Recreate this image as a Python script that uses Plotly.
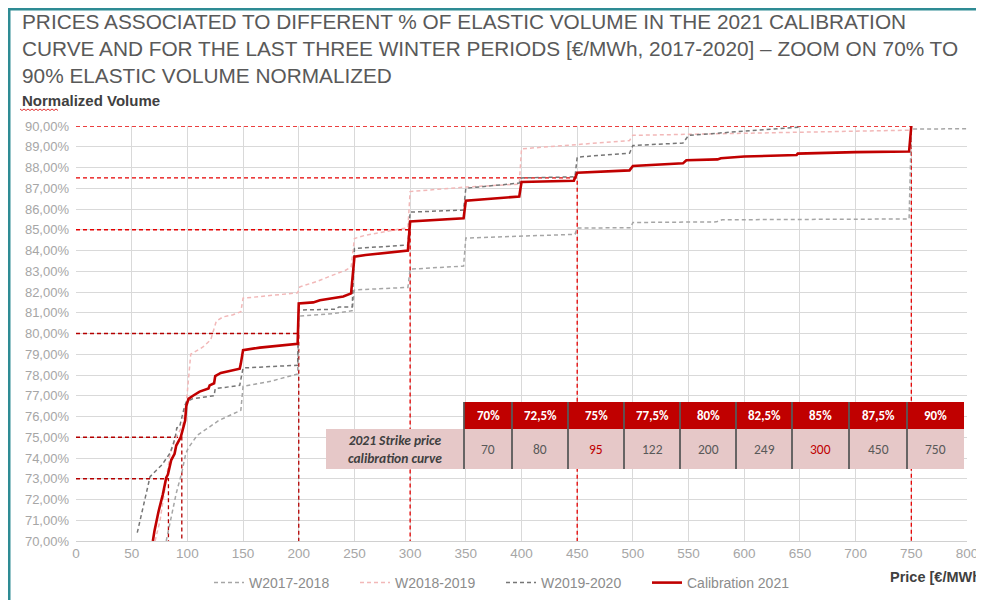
import plotly.graph_objects as go

# ---------------- DATA ----------------
cal_price = [69, 70.5, 74, 78, 81, 82.5, 85.5, 88.5, 90, 94, 96.5, 98, 99, 101, 105, 111, 119, 120, 124, 125,
             130, 147, 148, 150, 165, 199, 200, 213, 219, 230, 240, 247, 248.5, 250, 260, 298, 300, 348, 350, 398,
             400, 447, 450, 497, 500, 545, 548, 576, 579, 600, 647, 648, 700, 748, 750]
cal_vol = [70, 70.5, 71.4, 72.25, 73.05, 73.2, 73.9, 74.2, 74.6, 75.0, 75.5, 75.8, 76.5, 76.85, 77.0, 77.2, 77.35, 77.5, 77.6, 77.95,
           78.1, 78.3, 78.55, 79.2, 79.32, 79.5, 81.45, 81.5, 81.6, 81.7, 81.78, 81.93, 82.7, 83.7, 83.78, 84.0, 85.4, 85.55, 86.4, 86.6,
           87.3, 87.36, 87.75, 87.86, 88.07, 88.2, 88.35, 88.39, 88.45, 88.53, 88.6, 88.67, 88.74, 88.77, 90.0]

w17_price = [81, 86, 90, 95, 98.5, 101, 109, 120, 128, 148, 150, 175, 199, 200, 230, 248, 250, 298, 300, 348,
             350, 448, 450, 498, 500, 575, 580, 748, 750, 800]
w17_vol = [70, 71.2, 72.3, 73.3, 74.2, 74.5, 75.1, 75.5, 75.8, 76.3, 77.45, 77.7, 78.05, 80.84, 80.95, 81.1, 82.1, 82.22, 83.1, 83.25,
           84.6, 84.78, 85.08, 85.1, 85.35, 85.38, 85.48, 85.52, 89.85, 89.87]

w18_price = [71, 75.5, 80, 84.5, 90, 96, 99, 103, 114, 121, 126, 132, 141, 148, 150, 165, 199, 201, 216, 230,
             242, 247, 250, 260, 298, 300, 348, 398, 400, 497, 500, 750]
w18_vol = [70, 71, 72.6, 74.2, 75.0, 75.6, 76.6, 79.0, 79.35, 79.7, 80.6, 80.8, 80.9, 81.05, 81.7, 81.77, 81.96, 82.25, 82.5, 82.8,
           83.05, 83.2, 84.58, 84.74, 85.1, 86.84, 87.05, 87.2, 88.9, 89.3, 89.55, 89.8]

w19_price = [55, 60, 66.5, 72, 77, 84.5, 89, 90.5, 93, 97.5, 99, 105, 124, 125, 147, 150, 199, 200, 233, 236,
             248, 250, 298, 300, 348, 350, 398, 400, 448, 450, 497, 500, 545, 550, 650]
w19_vol = [70.4, 71.6, 73.1, 73.4, 73.66, 74.24, 74.96, 75.45, 75.5, 76.5, 76.7, 76.86, 77.0, 77.34, 77.5, 78.34, 78.47, 81.13, 81.17, 81.28,
           81.28, 84.1, 84.26, 85.85, 85.95, 87.0, 87.25, 87.5, 87.55, 88.5, 88.69, 89.06, 89.18, 89.55, 89.95]

# reference (guide) levels: volume % -> price
guide_vol = [73, 75, 80, 85, 87.5, 90]
guide_price = [83, 95, 200, 300, 450, 750]
guide_dark = [True, True, True, False, False, False]

# table
table_pct = ["70%", "72,5%", "75%", "77,5%", "80%", "82,5%", "85%", "87,5%", "90%"]
table_price = [70, 80, 95, 122, 200, 249, 300, 450, 750]
table_highlight = [False, False, True, False, False, False, True, False, False]
table_label = "2021 Strike price<br>calibration curve"

y_ticks = list(range(70, 91))
y_ticktext = [f"{v},00%" for v in y_ticks]
x_ticks = list(range(0, 801, 50))

# ---------------- FIGURE ----------------
OFF = 8                      # page body margin
W, H = 984 - OFF, 600 - OFF
L, R, T, B = 76, 967, 126, 541   # plot area in page pixels


def px_x(p):
    return (p - L) / (R - L)


def px_y(p):
    return (B - p) / (B - T)


fig = go.Figure()

# guide lines
for v, p, dark in zip(guide_vol, guide_price, guide_dark):
    fig.add_trace(go.Scatter(
        x=[0, p, p], y=[v, v, 70], mode="lines", showlegend=False, hoverinfo="skip",
        line=dict(color="#b40000" if dark else "#e50000", width=1.3, dash="4px,3px")))

fig.add_trace(go.Scatter(x=w17_price, y=w17_vol, mode="lines", name="W2017-2018",
                         line=dict(color="#a6a6a6", width=1.5, dash="4px,3px")))
fig.add_trace(go.Scatter(x=w18_price, y=w18_vol, mode="lines", name="W2018-2019",
                         line=dict(color="#f2b8b8", width=1.5, dash="4px,3px")))
fig.add_trace(go.Scatter(x=w19_price, y=w19_vol, mode="lines", name="W2019-2020",
                         line=dict(color="#767676", width=1.5, dash="4px,3px")))
fig.add_trace(go.Scatter(x=cal_price, y=cal_vol, mode="lines", name="Calibration 2021",
                         line=dict(color="#c00000", width=2.6)))

shapes = []
annotations = []

# frame (teal)
shapes.append(dict(type="line", xref="paper", yref="paper", x0=px_x(8.5), x1=px_x(1000), y0=px_y(9.3), y1=px_y(9.3),
                   line=dict(color="#2e8b94", width=2.6)))
shapes.append(dict(type="line", xref="paper", yref="paper", x0=px_x(9.2), x1=px_x(9.2), y0=px_y(8), y1=px_y(620),
                   line=dict(color="#2e8b94", width=2.6)))

# title
annotations.append(dict(
    xref="paper", yref="paper", x=px_x(20), y=px_y(8), xanchor="left", yanchor="top", align="left",
    showarrow=False,
    text="PRICES ASSOCIATED TO DIFFERENT % OF ELASTIC VOLUME IN THE 2021 CALIBRATION<br>"
         "CURVE AND FOR THE LAST THREE WINTER PERIODS [€/MWh, 2017-2020] – ZOOM ON 70% TO<br>"
         "90% ELASTIC VOLUME NORMALIZED",
    font=dict(family="Liberation Sans, Arial", size=20.8, color="#595959")))

# y-axis title
annotations.append(dict(xref="paper", yref="paper", x=px_x(20), y=px_y(100), xanchor="left", yanchor="middle",
                        showarrow=False, text="<b>Normalized Volume</b>",
                        font=dict(family="Liberation Sans, Arial", size=15, color="#404040")))
# spell-check squiggle under "Normalized"
zz = "M {} {}".format(px_x(20), px_y(109))
xx = 20
k = 0
while xx < 58:
    xx += 2
    k += 1
    zz += " L {} {}".format(px_x(xx), px_y(109 + (1.5 if k % 2 else 0)))
shapes.append(dict(type="path", xref="paper", yref="paper", path=zz, line=dict(color="#e03030", width=1)))

# x-axis title
annotations.append(dict(xref="paper", yref="paper", x=px_x(888), y=px_y(577), xanchor="left", yanchor="middle",
                        showarrow=False, text="<b>Price [€/MWh]</b>",
                        font=dict(family="Liberation Sans, Arial", size=14.5, color="#404040")))

# table
TF = "Carlito, Lato, Liberation Sans"
col_edges = [464, 512, 568, 624, 680, 736, 792, 849, 907, 964]
hdr_top, hdr_bot, row_bot = 402, 429, 469
lab_left = 326
shapes.append(dict(type="rect", xref="paper", yref="paper", x0=px_x(lab_left), x1=px_x(col_edges[-1]),
                   y0=px_y(row_bot), y1=px_y(hdr_bot), fillcolor="#e6c8c8", line=dict(width=0), layer="above"))
shapes.append(dict(type="rect", xref="paper", yref="paper", x0=px_x(col_edges[0]), x1=px_x(col_edges[-1]),
                   y0=px_y(hdr_bot), y1=px_y(hdr_top), fillcolor="#c00000", line=dict(width=0), layer="above"))
for e in col_edges[:-1]:
    shapes.append(dict(type="line", xref="paper", yref="paper", x0=px_x(e), x1=px_x(e),
                       y0=px_y(row_bot), y1=px_y(hdr_top), line=dict(color="#595959", width=1.8), layer="above"))
annotations.append(dict(xref="paper", yref="paper", x=px_x((lab_left + col_edges[0]) / 2),
                        y=px_y((hdr_bot + row_bot) / 2), xanchor="center", yanchor="middle", align="center",
                        showarrow=False, text="<i><b>" + table_label + "</b></i>",
                        font=dict(family=TF, size=13.5, color="#404040")))
for i, (pct, pr, hl) in enumerate(zip(table_pct, table_price, table_highlight)):
    cx = (col_edges[i] + col_edges[i + 1]) / 2
    annotations.append(dict(xref="paper", yref="paper", x=px_x(cx), y=px_y((hdr_top + hdr_bot) / 2),
                            xanchor="center", yanchor="middle",
                            showarrow=False, text="<b>" + pct + "</b>",
                            font=dict(family=TF, size=13, color="white")))
    annotations.append(dict(xref="paper", yref="paper", x=px_x(cx), y=px_y((hdr_bot + row_bot) / 2),
                            xanchor="center", yanchor="middle",
                            showarrow=False, text=str(pr),
                            font=dict(family=TF, size=13.5,
                                      color="#c00000" if hl else "#595959")))

fig.update_layout(
    width=W, height=H,
    margin=dict(l=L - OFF, r=W - (R - OFF), t=T - OFF, b=H - (B - OFF), autoexpand=False),
    paper_bgcolor="white", plot_bgcolor="white",
    font=dict(family="Liberation Sans, Arial", color="#a6a6a6"),
    shapes=shapes, annotations=annotations,
    showlegend=True,
    legend=dict(orientation="h", x=px_x(209), y=px_y(583), xanchor="left", yanchor="middle",
                font=dict(size=14, color="#8c8c8c"), bgcolor="rgba(0,0,0,0)",
                entrywidth=101, entrywidthmode="pixels", traceorder="normal"),
    xaxis=dict(range=[0, 800], tickvals=x_ticks, showgrid=True, gridcolor="#d9d9d9", gridwidth=1,
               zeroline=False, showline=True, linecolor="#d0d0d0", ticks="",
               tickfont=dict(size=13.5, color="#a6a6a6"), fixedrange=True),
    yaxis=dict(range=[70, 90], tickvals=y_ticks, ticktext=y_ticktext, showgrid=True, gridcolor="#d9d9d9",
               gridwidth=1, zeroline=False, showline=False, ticks="", ticklabelstandoff=6,
               tickfont=dict(size=13, color="#a6a6a6"), fixedrange=True),
)

fig.write_html("out.html")
